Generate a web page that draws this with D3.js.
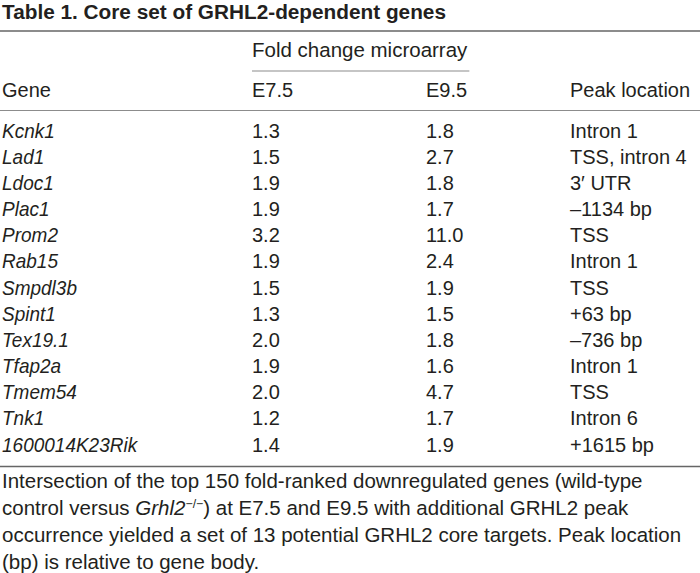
<!DOCTYPE html>
<html>
<head>
<meta charset="utf-8">
<script src="https://cdn.jsdelivr.net/npm/d3@7"></script>
<style>
  html, body { margin: 0; padding: 0; background: #fff; }
  svg { display: block; }
</style>
</head>
<body>
<svg id="chart" width="700" height="573"></svg>
<script>
// ---- data ----
const title = "Table 1. Core set of GRHL2-dependent genes";
const groupHeader = "Fold change microarray";
const columnHeaders = ["Gene", "E7.5", "E9.5", "Peak location"];
const genes = ["Kcnk1", "Lad1", "Ldoc1", "Plac1", "Prom2", "Rab15", "Smpdl3b", "Spint1", "Tex19.1", "Tfap2a", "Tmem54", "Tnk1", "1600014K23Rik"];
const foldE75 = ["1.3", "1.5", "1.9", "1.9", "3.2", "1.9", "1.5", "1.3", "2.0", "1.9", "2.0", "1.2", "1.4"];
const foldE95 = ["1.8", "2.7", "1.8", "1.7", "11.0", "2.4", "1.9", "1.5", "1.8", "1.6", "4.7", "1.7", "1.9"];
const peakLocation = ["Intron 1", "TSS, intron 4", "3\u2032 UTR", "\u20131134 bp", "TSS", "Intron 1", "TSS", "+63 bp", "\u2013736 bp", "Intron 1", "TSS", "Intron 6", "+1615 bp"];
const footnoteLines = [
  [{t: "Intersection of the top 150 fold-ranked downregulated genes (wild-type"}],
  [{t: "control versus "}, {t: "Grhl2", i: true}, {t: "\u2212/\u2212", sup: true}, {t: ") at E7.5 and E9.5 with additional GRHL2 peak"}],
  [{t: "occurrence yielded a set of 13 potential GRHL2 core targets. Peak location"}],
  [{t: "(bp) is relative to gene body."}]
];

// ---- layout ----
const textColor = "#231f20";
const fontFamily = "'Liberation Sans', Arial, Helvetica, sans-serif";
const fs = 20;
const fsNote = 20.5;

const svg = d3.select("#chart");

const colX = d3.scaleOrdinal().domain(["gene", "e75", "e95", "peak"]).range([2, 252, 426, 570]);
const rowY = d3.scalePoint().domain(genes).range([137.5, 451.5]);

function txt(g, x, y, s, opts = {}) {
  return g.append("text")
    .attr("transform", `translate(${x},${y}) scale(${opts.sx || 1},1)`)
    .attr("font-family", opts.family || fontFamily)
    .attr("font-size", opts.size || fs)
    .attr("font-weight", opts.weight || "normal")
    .attr("font-style", opts.italic ? "italic" : "normal")
    .attr("fill", textColor)
    .text(s);
}

// title
txt(svg, 2, 19, title, {weight: "bold", size: 21, sx: 0.99});

function rule(x1, x2, y, color, w) {
  svg.append("line").attr("x1", x1).attr("x2", x2).attr("y1", y).attr("y2", y)
    .attr("stroke", color).attr("stroke-width", w);
}
rule(0, 700, 31, "#666666", 1.5);
rule(0, 700, 110.5, "#8c8c8c", 1.2);
rule(0, 700, 466.5, "#666666", 1.5);

// header
const gh = txt(svg, colX("e75"), 56.5, groupHeader, {size: fsNote});
const ghW = gh.node().getComputedTextLength();
rule(colX("e75"), colX("e75") + ghW + 2, 71, "#8c8c8c", 1.2);

["gene", "e75", "e95", "peak"].forEach((k, i) => txt(svg, colX(k), 97, columnHeaders[i]));

// body rows
const rows = svg.append("g");
genes.forEach((g, i) => {
  const y = rowY(g);
  txt(rows, colX("gene"), y, g, {italic: true, sx: 0.95});
  txt(rows, colX("e75"), y, foldE75[i]);
  txt(rows, colX("e95"), y, foldE95[i]);
  txt(rows, colX("peak"), y, peakLocation[i]);
});

// footnote
const fnY = d3.scaleLinear().domain([0, 3]).range([488, 568.5]);
footnoteLines.forEach((parts, li) => {
  const t = svg.append("text")
    .attr("x", 2)
    .attr("y", fnY(li))
    .attr("font-family", fontFamily)
    .attr("font-size", fsNote)
    .attr("fill", textColor);
  parts.forEach(p => {
    const ts = t.append("tspan").text(p.t);
    if (p.i) ts.attr("font-style", "italic");
    if (p.sup) ts.attr("font-size", fsNote * 0.6).attr("baseline-shift", "super");
  });
});
</script>
</body>
</html>
